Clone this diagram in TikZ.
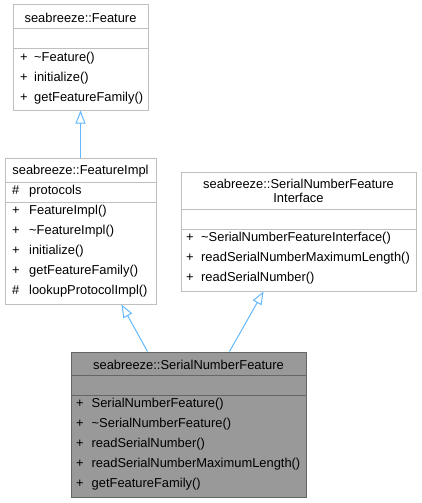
\documentclass[tikz,border=0pt]{standalone}
\usepackage{fontspec}
\setmainfont{Liberation Sans}
\usetikzlibrary{arrows.meta,calc}
\definecolor{boxline}{HTML}{BFBFBF}
\definecolor{hiline}{HTML}{666666}
\definecolor{hifill}{HTML}{999999}
\definecolor{inh}{HTML}{63B8FF}
\tikzset{
  x=1pt,y=-1pt,
  every node/.style={font=\fontsize{12.9}{15.5}\selectfont},
  classbox/.style={draw=boxline,fill=white,line width=1pt,inner sep=0pt,rectangle},
  hibox/.style={draw=hiline,fill=hifill,line width=1pt,inner sep=0pt,rectangle},
  divider/.style={line width=1pt},
  member/.style={anchor=mid west,inner sep=0pt,yshift=-1.2pt},
  title/.style={inner sep=0pt,align=center,yshift=-0.5pt},
  inherit/.style={draw=inh,line width=1pt,-{Triangle[open,length=13pt,width=10pt]}},
}
\begin{document}
\begin{tikzpicture}
\useasboundingbox (0,0) rectangle (421,503);
% Feature
\node[classbox,minimum width=135pt,minimum height=105pt] (feat) at (80.5,57.5) {};
\draw[boxline,divider] (13,28.5) -- (148,28.5) (13,48.5) -- (148,48.5);
\node[title] (featT) at (80.5,17) {seabreeze::Feature};
\node[member] (f1s) at (20,58) {+};
\node[member] (f1) at (34,58) {\textasciitilde Feature()};
\node[member] (f2s) at (20,78) {+};
\node[member] (f2) at (34,78) {initialize()};
\node[member] (f3s) at (20,98) {+};
\node[member] (f3) at (34,98) {getFeatureFamily()};
% FeatureImpl
\node[classbox,minimum width=151pt,minimum height=146pt] (impl) at (80.5,231) {};
\draw[boxline,divider] (5,182) -- (156,182) (5,202) -- (156,202);
\node[title] (implT) at (80.5,171) {seabreeze::FeatureImpl};
\node[member] (i0s) at (12,191) {\#};
\node[member] (i0) at (29,191) {protocols};
\node[member] (i1s) at (12,211) {+};
\node[member] (i1) at (29,211) {FeatureImpl()};
\node[member] (i2s) at (12,231) {+};
\node[member] (i2) at (29,231) {\textasciitilde FeatureImpl()};
\node[member] (i3s) at (12,251) {+};
\node[member] (i3) at (29,251) {initialize()};
\node[member] (i4s) at (12,271) {+};
\node[member] (i4) at (29,271) {getFeatureFamily()};
\node[member] (i5s) at (12,291) {\#};
\node[member] (i5) at (29,291) {lookupProtocolImpl()};
% Interface
\node[classbox,minimum width=235pt,minimum height=119pt] (intf) at (298.5,231.5) {};
\draw[boxline,divider] (181,209) -- (416,209) (181,229) -- (416,229);
\node[title] (intfT1) at (298.5,183) {seabreeze::SerialNumberFeature};
\node[title] (intfT2) at (298.5,197) {Interface};
\node[member] (n1s) at (186,238) {+};
\node[member] (n1) at (201,238) {\textasciitilde SerialNumberFeatureInterface()};
\node[member] (n2s) at (186,258) {+};
\node[member] (n2) at (201,258) {readSerialNumberMaximumLength()};
\node[member] (n3s) at (186,278) {+};
\node[member] (n3) at (201,278) {readSerialNumber()};
% SerialNumberFeature
\node[hibox,minimum width=235pt,minimum height=145pt] (snf) at (188.5,424.5) {};
\draw[hiline,divider] (71,375) -- (306,375) (71,395) -- (306,395);
\node[title] (snfT) at (188.5,364) {seabreeze::SerialNumberFeature};
\node[member] (s1s) at (76,404) {+};
\node[member] (s1) at (91.5,404) {SerialNumberFeature()};
\node[member] (s2s) at (76,424) {+};
\node[member] (s2) at (91.5,424) {\textasciitilde SerialNumberFeature()};
\node[member] (s3s) at (76,444) {+};
\node[member] (s3) at (91.5,444) {readSerialNumber()};
\node[member] (s4s) at (76,464) {+};
\node[member] (s4) at (91.5,464) {readSerialNumberMaximumLength()};
\node[member] (s5s) at (76,484) {+};
\node[member] (s5) at (91.5,484) {getFeatureFamily()};
% inheritance
\draw[inherit] (impl.north) -- (feat.south);
\draw[inherit] ($(snf.north west)+(77,0)$) -- ($(impl.south west)+(117,0)$);
\draw[inherit] ($(snf.north west)+(159,0)$) -- ($(intf.south west)+(83,0)$);
\end{tikzpicture}
\end{document}
